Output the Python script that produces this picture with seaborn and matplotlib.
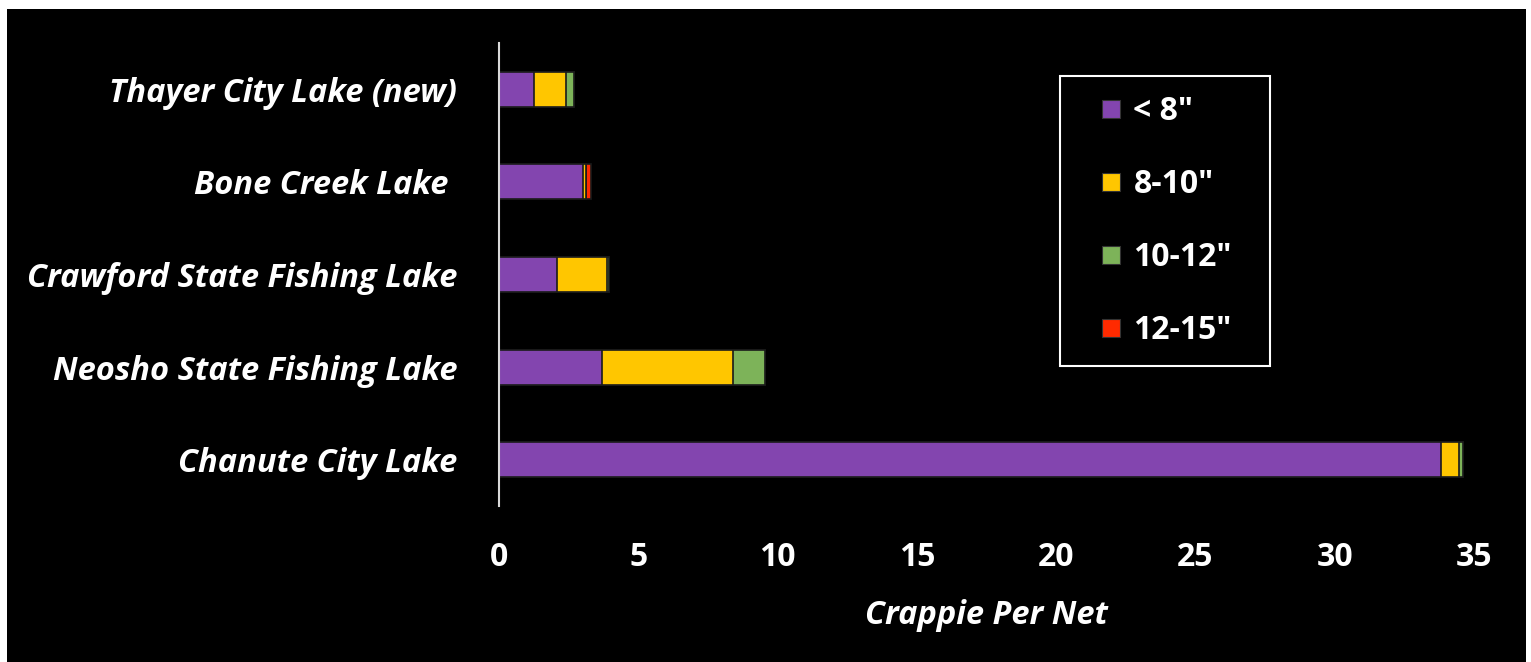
import numpy as np
import pandas as pd
import matplotlib
matplotlib.use("Agg")
import matplotlib.pyplot as plt
from matplotlib.patches import Rectangle
from matplotlib.lines import Line2D
import seaborn as sns

lakes = ["Thayer City Lake (new)", "Bone Creek Lake ", "Crawford State Fishing Lake",
         "Neosho State Fishing Lake", "Chanute City Lake"]
size_classes = ['< 8"', '8-10"', '10-12"', '12-15"']
under_8 = [1.25, 3.0, 2.08, 3.7, 33.8]
in_8_10 = [1.15, 0.12, 1.8, 4.7, 0.66]
in_10_12 = [0.28, 0.0, 0.08, 1.15, 0.15]
in_12_15 = [0.0, 0.2, 0.0, 0.0, 0.0]
colors = ["#8345AF", "#FFC600", "#7DB359", "#FF2A00"]
x_ticks = [0, 5, 10, 15, 20, 25, 30, 35]

df = pd.DataFrame({"lake": lakes, size_classes[0]: under_8, size_classes[1]: in_8_10,
                   size_classes[2]: in_10_12, size_classes[3]: in_12_15})
cum = df[size_classes].cumsum(axis=1)
cum["lake"] = df["lake"]

sns.set_style("dark")
plt.rcParams["font.family"] = ["Open Sans", "DejaVu Sans"]

fig = plt.figure(figsize=(15.31, 6.62), dpi=100, facecolor="white")
fig.patches.append(Rectangle((7 / 1531, 0), 1519 / 1531, 653 / 662, transform=fig.transFigure,
                             facecolor="black", edgecolor="none", zorder=-10))
ax = fig.add_axes([499 / 1531, 1 - 506 / 662, (1474 - 499) / 1531, (506 - 43) / 662])
ax.set_facecolor("black")

# stacked bars: draw cumulative totals from the outermost class inwards
for cls, col in reversed(list(zip(size_classes, colors))):
    sns.barplot(data=cum, y="lake", x=cls, orient="h", color=col, width=0.38,
                edgecolor="#1a1a1a", linewidth=1.2, ax=ax, saturation=1)

ax.set_xlim(0, 35)
ax.set_ylim(4.5, -0.5)
ax.set_xticks(x_ticks)
ax.set_xticklabels([str(t) for t in x_ticks], fontsize=23, fontweight="bold", color="white")
ax.set_yticks(range(len(lakes)))
ax.set_yticklabels(lakes, fontsize=23.5, fontweight="bold", style="italic", color="white")
ax.tick_params(axis="x", length=0, pad=25)
ax.tick_params(axis="y", length=0, pad=30)
ax.grid(False)
for s in ["top", "right", "bottom"]:
    ax.spines[s].set_visible(False)
ax.spines["left"].set_visible(True)
ax.spines["left"].set_color("#d9d9d9")
ax.spines["left"].set_linewidth(1.5)
ax.set_ylabel("")
ax.set_xlabel("Crappie Per Net", fontsize=23.5, fontweight="bold", style="italic",
              color="white", labelpad=18)

handles = [Line2D([], [], linestyle="none", marker="s", markersize=13, markerfacecolor=c,
                  markeredgecolor="#333333", markeredgewidth=0.8) for c in colors]
leg = fig.legend(handles, size_classes, loc="upper left", mode="expand",
                 bbox_to_anchor=(1060 / 1531, 1 - 76 / 662, 210 / 1531, 0), borderaxespad=0,
                 frameon=True, fancybox=False, facecolor="black", edgecolor="white",
                 framealpha=1, numpoints=1, handlelength=2.0, handletextpad=-0.3,
                 borderpad=0.6, labelspacing=1.25,
                 prop={"size": 23, "weight": "bold"})
leg.get_frame().set_linewidth(1.5)
for t in leg.get_texts():
    t.set_color("white")

fig.savefig("out.png", dpi=100, facecolor=fig.get_facecolor())
